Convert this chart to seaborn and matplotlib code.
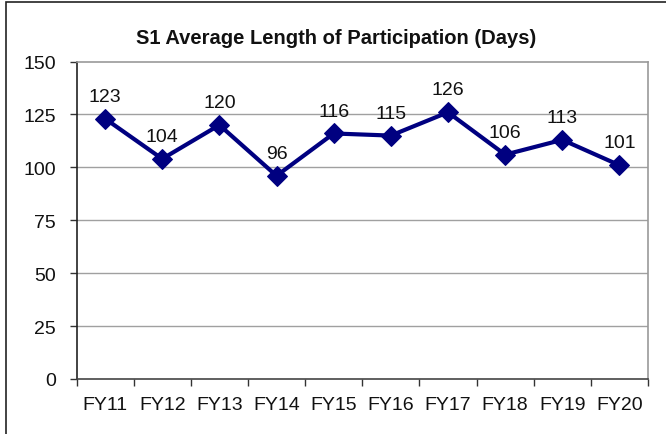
import matplotlib
matplotlib.use("Agg")
import matplotlib.pyplot as plt
import seaborn as sns
import pandas as pd
from matplotlib.patches import Rectangle

categories = ["FY11", "FY12", "FY13", "FY14", "FY15", "FY16", "FY17", "FY18", "FY19", "FY20"]
values = [123, 104, 120, 96, 116, 115, 126, 106, 113, 101]
yticks = [0, 25, 50, 75, 100, 125, 150]
title = "S1 Average Length of Participation (Days)"

sns.set_theme(style="white")
plt.rcParams['font.family'] = ['Liberation Sans', 'DejaVu Sans']

df = pd.DataFrame({"cat": categories, "val": values, "pos": range(len(categories))})

fig = plt.figure(figsize=(6.66, 4.35), dpi=100)
ax = fig.add_axes([76.5/666, 1-380/435, (648-76.5)/666, (380-62.5)/435])

sns.lineplot(data=df, x="pos", y="val", ax=ax, color="#000080", linewidth=3,
             marker="D", markersize=10.5, markeredgecolor="#000080", sort=False)

for p, v in zip(df["pos"], df["val"]):
    ax.annotate(str(v), (p, v), xytext=(0, 10), textcoords="offset points",
                ha="center", va="bottom", fontsize=14, color="#111111")

ax.set_xlim(-0.5, len(categories) - 0.5)
ax.set_ylim(0, 150)
ax.set_yticks(yticks)
ax.set_yticklabels([str(t) for t in yticks], fontsize=14)
ax.set_xticks(range(len(categories)))
ax.set_xticklabels(categories, fontsize=14)
ax.set_xticks([i - 0.5 for i in range(len(categories) + 1)], minor=True)
ax.tick_params(axis="x", which="major", length=0, pad=12, colors="#111111")
ax.tick_params(axis="x", which="minor", length=5, width=1, color="#333333", bottom=True)
ax.tick_params(axis="y", which="major", length=5, width=1, color="#333333", left=True, pad=10,
               colors="#111111")
ax.set_xlabel("")
ax.set_ylabel("")
for y in yticks[1:-1]:
    ax.axhline(y, color="#a0a0a0", linewidth=1, zorder=0)

ax.spines["left"].set_color("#222222")
ax.spines["bottom"].set_color("#444444")
ax.spines["top"].set_color("#999999")
ax.spines["right"].set_color("#999999")
for s in ax.spines.values():
    s.set_linewidth(1.2)

fig.text(336/666, 1-39/435, title, ha="center", va="center", fontsize=14.5, fontweight="bold",
         color="#111111")

fig.patches.append(Rectangle((6/666, -0.1), 1.2, 1 - 3/435 + 0.1, transform=fig.transFigure,
                             fill=False, edgecolor="#222222", linewidth=1.2))

fig.savefig("out.png", dpi=100)
